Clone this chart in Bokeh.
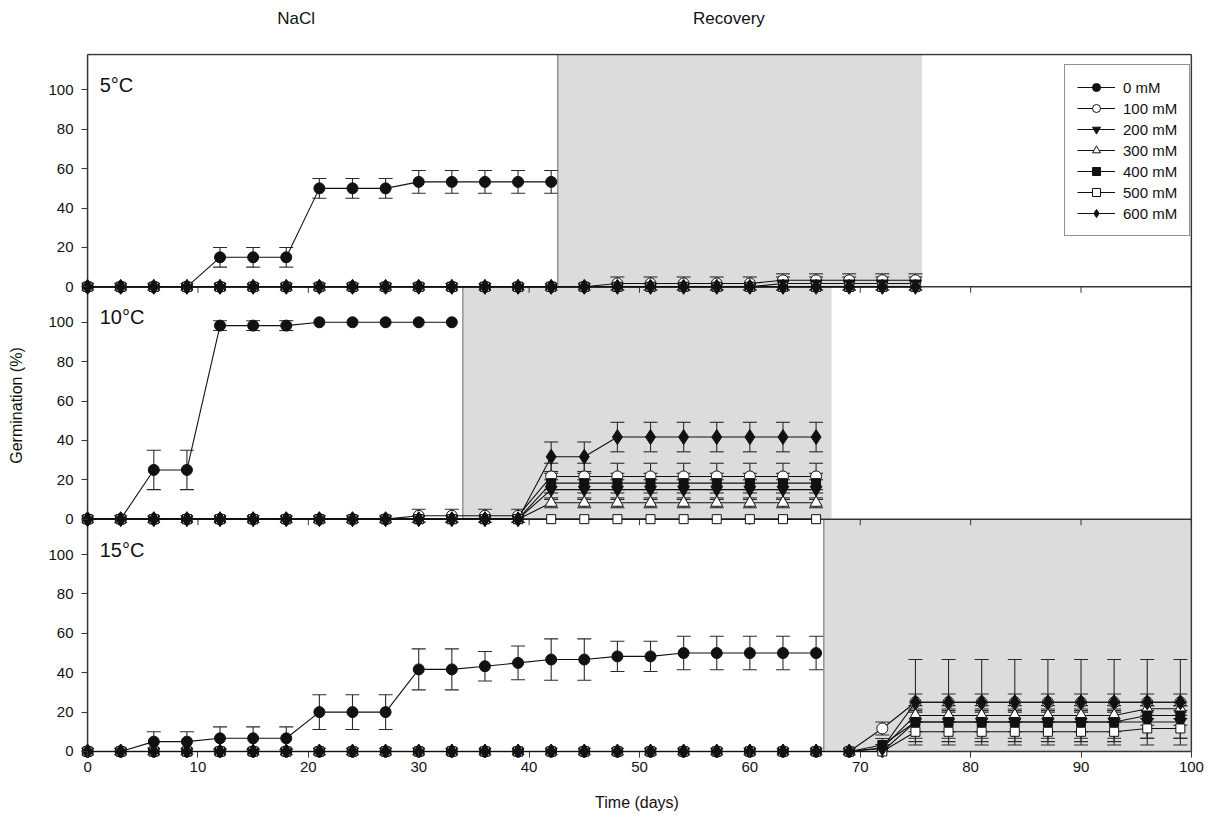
from bokeh.plotting import figure
from bokeh.layouts import column
from bokeh.models import (ColumnDataSource, FixedTicker, Whisker, TeeHead,
                          Legend, LegendItem, Label, Range1d)
from bokeh.core.properties import value
from bokeh.embed import file_html
from bokeh.resources import INLINE

FONT = "Liberation Sans"
INK = "#111111"
FRAME = "#353535"
BAR = "#2a2a2a"
SHADE = "#dcdcdc"

# ---------------------------------------------------------------- data
concentrations = ["0 mM", "100 mM", "200 mM", "300 mM", "400 mM", "500 mM", "600 mM"]
panel_titles = ["5°C", "10°C", "15°C"]
phase_titles = ["NaCl", "Recovery"]
x_tick_values = [0, 10, 20, 30, 40, 50, 60, 70, 80, 90, 100]
y_tick_values = [0, 20, 40, 60, 80, 100]

# 5 °C
days_5 = [0, 3, 6, 9, 12, 15, 18, 21, 24, 27, 30, 33, 36, 39, 42,
          45, 48, 51, 54, 57, 60, 63, 66, 69, 72, 75]
recovery_5 = (42.6, 75.6)
germ_5_0 = [0, 0, 0, 0, 15, 15, 15, 50, 50, 50, 53.3, 53.3, 53.3, 53.3, 53.3]
err_5_0 = [0, 0, 0, 0, 5, 5, 5, 5, 5, 5, 5.8, 5.8, 5.8, 5.8, 5.8]
germ_5_100 = [0, 0, 0, 0, 0, 0, 0, 0, 0, 0, 0, 0, 0, 0, 0,
              0, 1.7, 1.7, 1.7, 1.7, 1.7, 3.3, 3.3, 3.3, 3.3, 3.3]
err_5_100 = [0, 0, 0, 0, 0, 0, 0, 0, 0, 0, 0, 0, 0, 0, 0,
             0, 3.3, 3.3, 3.3, 3.3, 3.3, 3.3, 3.3, 3.3, 3.3, 3.3]
germ_5_200 = [0, 0, 0, 0, 0, 0, 0, 0, 0, 0, 0, 0, 0, 0, 0,
              0, 0, 0, 0, 0, 0, 1.7, 1.7, 1.7, 1.7, 1.7]
err_5_200 = [0, 0, 0, 0, 0, 0, 0, 0, 0, 0, 0, 0, 0, 0, 0,
             0, 0, 0, 0, 0, 0, 3.3, 3.3, 3.3, 3.3, 3.3]
germ_5_300 = [0, 0, 0, 0, 0, 0, 0, 0, 0, 0, 0, 0, 0, 0, 0,
              0, 0, 0, 0, 0, 0, 0, 0, 0, 0, 0]
err_5_300 = [0, 0, 0, 0, 0, 0, 0, 0, 0, 0, 0, 0, 0, 0, 0,
             0, 0, 0, 0, 0, 0, 0, 0, 0, 0, 0]
germ_5_400 = [0, 0, 0, 0, 0, 0, 0, 0, 0, 0, 0, 0, 0, 0, 0,
              0, 0, 0, 0, 0, 0, 0, 0, 0, 0, 0]
err_5_400 = [0, 0, 0, 0, 0, 0, 0, 0, 0, 0, 0, 0, 0, 0, 0,
             0, 0, 0, 0, 0, 0, 0, 0, 0, 0, 0]
germ_5_500 = [0, 0, 0, 0, 0, 0, 0, 0, 0, 0, 0, 0, 0, 0, 0,
              0, 0, 0, 0, 0, 0, 0, 0, 0, 0, 0]
err_5_500 = [0, 0, 0, 0, 0, 0, 0, 0, 0, 0, 0, 0, 0, 0, 0,
             0, 0, 0, 0, 0, 0, 0, 0, 0, 0, 0]
germ_5_600 = [0, 0, 0, 0, 0, 0, 0, 0, 0, 0, 0, 0, 0, 0, 0,
              0, 0, 0, 0, 0, 0, 0, 0, 0, 0, 0]
err_5_600 = [0, 0, 0, 0, 0, 0, 0, 0, 0, 0, 0, 0, 0, 0, 0,
             0, 0, 0, 0, 0, 0, 0, 0, 0, 0, 0]

# 10 °C
days_10 = [0, 3, 6, 9, 12, 15, 18, 21, 24, 27, 30, 33,
           36, 39, 42, 45, 48, 51, 54, 57, 60, 63, 66]
recovery_10 = (34.0, 67.4)
germ_10_0 = [0, 0, 25, 25, 98.3, 98.3, 98.3, 100, 100, 100, 100, 100]
err_10_0 = [0, 0, 10, 10, 2.5, 2.5, 2.5, 0, 0, 0, 0, 0]
germ_10_100 = [0, 0, 0, 0, 0, 0, 0, 0, 0, 0, 1.7, 1.7,
               1.7, 1.7, 21.7, 21.7, 21.7, 21.7, 21.7, 21.7, 21.7, 21.7, 21.7]
err_10_100 = [0, 0, 0, 0, 0, 0, 0, 0, 0, 0, 3.3, 3.3,
              3.3, 3.3, 6.7, 6.7, 6.7, 6.7, 6.7, 6.7, 6.7, 6.7, 6.7]
germ_10_200 = [0, 0, 0, 0, 0, 0, 0, 0, 0, 0, 0, 0,
               0, 0, 15, 15, 15, 15, 15, 15, 15, 15, 15]
err_10_200 = [0, 0, 0, 0, 0, 0, 0, 0, 0, 0, 0, 0,
              0, 0, 5, 5, 5, 5, 5, 5, 5, 5, 5]
germ_10_300 = [0, 0, 0, 0, 0, 0, 0, 0, 0, 0, 0, 0,
               0, 0, 8.3, 8.3, 8.3, 8.3, 8.3, 8.3, 8.3, 8.3, 8.3]
err_10_300 = [0, 0, 0, 0, 0, 0, 0, 0, 0, 0, 0, 0,
              0, 0, 2.5, 2.5, 2.5, 2.5, 2.5, 2.5, 2.5, 2.5, 2.5]
germ_10_400 = [0, 0, 0, 0, 0, 0, 0, 0, 0, 0, 0, 0,
               0, 0, 18.3, 18.3, 18.3, 18.3, 18.3, 18.3, 18.3, 18.3, 18.3]
err_10_400 = [0, 0, 0, 0, 0, 0, 0, 0, 0, 0, 0, 0,
              0, 0, 5, 5, 5, 5, 5, 5, 5, 5, 5]
germ_10_500 = [0, 0, 0, 0, 0, 0, 0, 0, 0, 0, 0, 0,
               0, 0, 0, 0, 0, 0, 0, 0, 0, 0, 0]
err_10_500 = [0, 0, 0, 0, 0, 0, 0, 0, 0, 0, 0, 0,
              0, 0, 0, 0, 0, 0, 0, 0, 0, 0, 0]
germ_10_600 = [0, 0, 0, 0, 0, 0, 0, 0, 0, 0, 0, 0,
               0, 0, 31.7, 31.7, 41.7, 41.7, 41.7, 41.7, 41.7, 41.7, 41.7]
err_10_600 = [0, 0, 0, 0, 0, 0, 0, 0, 0, 0, 0, 0,
              0, 0, 7.5, 7.5, 7.5, 7.5, 7.5, 7.5, 7.5, 7.5, 7.5]

# 15 °C
days_15 = [0, 3, 6, 9, 12, 15, 18, 21, 24, 27, 30, 33, 36, 39, 42, 45, 48,
           51, 54, 57, 60, 63, 66, 69, 72, 75, 78, 81, 84, 87, 90, 93, 96, 99]
recovery_15 = (66.7, 100.0)
germ_15_0 = [0, 0, 5, 5, 6.7, 6.7, 6.7, 20, 20, 20, 41.7, 41.7, 43.3, 45,
             46.7, 46.7, 48.3, 48.3, 50, 50, 50, 50, 50]
err_15_0 = [0, 0, 5, 5, 5.8, 5.8, 5.8, 8.8, 8.8, 8.8, 10.4, 10.4, 7.5, 8.6,
            10.5, 10.5, 7.7, 7.7, 8.5, 8.5, 8.5, 8.5, 8.5]
germ_15_100 = [0, 0, 0, 0, 0, 0, 0, 0, 0, 0, 0, 0, 0, 0, 0, 0, 0,
               0, 0, 0, 0, 0, 0, 0, 11.7, 25, 25, 25, 25, 25, 25, 25, 25, 25]
err_15_100 = [0, 0, 0, 0, 0, 0, 0, 0, 0, 0, 0, 0, 0, 0, 0, 0, 0,
              0, 0, 0, 0, 0, 0, 0, 3.3, 4.2, 4.2, 4.2, 4.2, 4.2, 4.2, 4.2, 4.2, 4.2]
germ_15_200 = [0, 0, 0, 0, 0, 0, 0, 0, 0, 0, 0, 0, 0, 0, 0, 0, 0,
               0, 0, 0, 0, 0, 0, 0, 0, 15, 15, 15, 15, 15, 15, 15, 15, 15]
err_15_200 = [0, 0, 0, 0, 0, 0, 0, 0, 0, 0, 0, 0, 0, 0, 0, 0, 0,
              0, 0, 0, 0, 0, 0, 0, 0, 8.3, 8.3, 8.3, 8.3, 8.3, 8.3, 8.3, 8.3, 8.3]
germ_15_300 = [0, 0, 0, 0, 0, 0, 0, 0, 0, 0, 0, 0, 0, 0, 0, 0, 0,
               0, 0, 0, 0, 0, 0, 0, 1.7, 18.3, 18.3, 18.3, 18.3, 18.3, 18.3, 18.3, 21.7, 21.7]
err_15_300 = [0, 0, 0, 0, 0, 0, 0, 0, 0, 0, 0, 0, 0, 0, 0, 0, 0,
              0, 0, 0, 0, 0, 0, 0, 1.7, 3.3, 3.3, 3.3, 3.3, 3.3, 3.3, 3.3, 3.3, 3.3]
germ_15_400 = [0, 0, 0, 0, 0, 0, 0, 0, 0, 0, 0, 0, 0, 0, 0, 0, 0,
               0, 0, 0, 0, 0, 0, 0, 3.3, 15, 15, 15, 15, 15, 15, 15, 18.3, 18.3]
err_15_400 = [0, 0, 0, 0, 0, 0, 0, 0, 0, 0, 0, 0, 0, 0, 0, 0, 0,
              0, 0, 0, 0, 0, 0, 0, 3.3, 5, 5, 5, 5, 5, 5, 5, 5, 5]
germ_15_500 = [0, 0, 0, 0, 0, 0, 0, 0, 0, 0, 0, 0, 0, 0, 0, 0, 0,
               0, 0, 0, 0, 0, 0, 0, 0, 10, 10, 10, 10, 10, 10, 10, 11.7, 11.7]
err_15_500 = [0, 0, 0, 0, 0, 0, 0, 0, 0, 0, 0, 0, 0, 0, 0, 0, 0,
              0, 0, 0, 0, 0, 0, 0, 0, 5, 5, 5, 5, 5, 5, 5, 5, 5]
germ_15_600 = [0, 0, 0, 0, 0, 0, 0, 0, 0, 0, 0, 0, 0, 0, 0, 0, 0,
               0, 0, 0, 0, 0, 0, 0, 1.7, 25, 25, 25, 25, 25, 25, 25, 25, 25]
err_15_600 = [0, 0, 0, 0, 0, 0, 0, 0, 0, 0, 0, 0, 0, 0, 0, 0, 0,
              0, 0, 0, 0, 0, 0, 0, 1.7, 21.7, 21.7, 21.7, 21.7, 21.7, 21.7, 21.7, 21.7, 21.7]

# ---------------------------------------------------------------- layout
PANEL_SPAN = 118       # y units taken by one stacked panel (axis runs 0..118)
BELOW_PAD = 3.05       # room under each panel's zero line for outward ticks
HEAD_H = 53            # height of the strip carrying the phase headings

# panels from top to bottom with their vertical offset in the shared y space
panels = [
    dict(offset=2 * PANEL_SPAN, days=days_5, recovery=recovery_5, title=panel_titles[0],
         germ=[germ_5_0, germ_5_100, germ_5_200, germ_5_300, germ_5_400, germ_5_500, germ_5_600],
         err=[err_5_0, err_5_100, err_5_200, err_5_300, err_5_400, err_5_500, err_5_600]),
    dict(offset=1 * PANEL_SPAN, days=days_10, recovery=recovery_10, title=panel_titles[1],
         germ=[germ_10_0, germ_10_100, germ_10_200, germ_10_300, germ_10_400, germ_10_500, germ_10_600],
         err=[err_10_0, err_10_100, err_10_200, err_10_300, err_10_400, err_10_500, err_10_600]),
    dict(offset=0, days=days_15, recovery=recovery_15, title=panel_titles[2],
         germ=[germ_15_0, germ_15_100, germ_15_200, germ_15_300, germ_15_400, germ_15_500, germ_15_600],
         err=[err_15_0, err_15_100, err_15_200, err_15_300, err_15_400, err_15_500, err_15_600]),
]

# marker, fill, size for each concentration
styles = [("circle", INK, 11), ("circle", "white", 11),
          ("inverted_triangle", INK, 12), ("triangle", "white", 12),
          ("square", INK, 9), ("square", "white", 9),
          ("diamond", INK, 15)]

x_lo, x_hi = x_tick_values[0], x_tick_values[-1]
n_panels = len(panels)
top_edge = n_panels * PANEL_SPAN
x_range = Range1d(-0.55, 100.1)

# ---------------------------------------------------------------- heading strip
head = figure(width=1209, height=HEAD_H, output_backend="svg", toolbar_location=None,
              x_range=x_range, y_range=Range1d(0, 1),
              min_border_left=81, min_border_right=17, min_border_top=0, min_border_bottom=0,
              background_fill_color="white", border_fill_color="white",
              outline_line_color=None)
head.axis.visible = False
head.grid.visible = False
head.text(x=[18.9, 58.1], y=[0.66, 0.66], text=phase_titles,
          text_font=value(FONT), text_font_size=value("17px"), text_color=INK,
          text_align="center", text_baseline="middle")

# ---------------------------------------------------------------- main plot
p = figure(width=1209, height=823 - HEAD_H, output_backend="svg", toolbar_location=None,
           x_range=x_range, y_range=Range1d(-BELOW_PAD, top_edge + 0.5),
           min_border_left=81, min_border_right=17, min_border_top=0, min_border_bottom=66,
           background_fill_color="white", border_fill_color="white",
           outline_line_color=None)
p.xgrid.visible = False
p.ygrid.visible = False

# x axis: ticks drawn upward from the frame edge so they hang below the zero line
xa = p.xaxis[0]
xa.ticker = FixedTicker(ticks=x_tick_values)
xa.axis_line_color = None
xa.major_tick_in = 6
xa.major_tick_out = 0
xa.major_tick_line_color = FRAME
xa.minor_tick_line_color = None
xa.major_label_standoff = 4
xa.major_label_text_font = FONT
xa.major_label_text_font_size = "15px"
xa.major_label_text_color = INK
xa.axis_label = "Time (days)"
xa.axis_label_text_font = FONT
xa.axis_label_text_font_size = "16px"
xa.axis_label_text_font_style = "normal"
xa.axis_label_text_color = INK
xa.axis_label_standoff = 19

# y axis: the same 0-100 scale repeated for each panel
ya = p.yaxis[0]
y_ticks, y_labels = [], {}
for pan in panels:
    for v in y_tick_values:
        y_ticks.append(pan["offset"] + v)
        y_labels[pan["offset"] + v] = str(v)
ya.ticker = FixedTicker(ticks=y_ticks)
ya.major_label_overrides = y_labels
ya.axis_line_color = None
ya.major_tick_in = 6
ya.major_tick_out = 0
ya.major_tick_line_color = FRAME
ya.minor_tick_line_color = None
ya.major_label_standoff = 8
ya.major_label_text_font = FONT
ya.major_label_text_font_size = "15px"
ya.major_label_text_color = INK
ya.axis_label = "Germination (%)"
ya.axis_label_text_font = FONT
ya.axis_label_text_font_size = "16px"
ya.axis_label_text_font_style = "normal"
ya.axis_label_text_color = INK
ya.axis_label_standoff = 20

# recovery phase shading
for pan in panels:
    r0, r1 = pan["recovery"]
    p.quad(left=[r0], right=[r1], bottom=[pan["offset"]], top=[pan["offset"] + PANEL_SPAN],
           fill_color=SHADE, line_color=None, level="underlay")
    p.segment(x0=[r0], y0=[pan["offset"]], x1=[r0], y1=[pan["offset"] + PANEL_SPAN],
              line_color="#6a6a6a", line_width=1)

# frame: one box per panel plus the small ticks under the upper panels
h_y = [k * PANEL_SPAN for k in range(n_panels + 1)]
p.segment(x0=[x_lo] * len(h_y), y0=h_y, x1=[x_hi] * len(h_y), y1=h_y,
          line_color=FRAME, line_width=1.5)
p.segment(x0=[x_lo, x_hi], y0=[0, 0], x1=[x_lo, x_hi], y1=[top_edge] * 2,
          line_color=FRAME, line_width=1.5)
tx0, ty0, ty1 = [], [], []
for pan in panels:
    if pan["offset"] == 0:
        continue
    for t in x_tick_values[1:]:
        tx0.append(t)
        ty0.append(pan["offset"])
        ty1.append(pan["offset"] - BELOW_PAD)
p.segment(x0=tx0, y0=ty0, x1=tx0, y1=ty1, line_color=FRAME, line_width=1)

# series
legend_renderers = {}
for pan in panels:
    off = pan["offset"]
    for ci, (vals, errs) in enumerate(zip(pan["germ"], pan["err"])):
        xs = pan["days"][:len(vals)]
        ys = [v + off for v in vals]
        wx = [x for x, e in zip(xs, errs) if e > 0]
        wu = [y + e for y, e in zip(ys, errs) if e > 0]
        wl = [y - e for y, e in zip(ys, errs) if e > 0]
        if wx:
            wsrc = ColumnDataSource(dict(x=wx, upper=wu, lower=wl))
            p.add_layout(Whisker(source=wsrc, base="x", upper="upper", lower="lower",
                                 dimension="height", line_color=BAR, line_width=1.1,
                                 upper_head=TeeHead(size=14, line_color=BAR, line_width=1.1),
                                 lower_head=TeeHead(size=14, line_color=BAR, line_width=1.1),
                                 level="underlay"))
        src = ColumnDataSource(dict(x=xs, y=ys))
        ln = p.line("x", "y", source=src, line_color=INK, line_width=1.1)
        marker, fill, size = styles[ci]
        sc = p.scatter("x", "y", source=src, marker=marker, size=size,
                       fill_color=fill, line_color=INK, line_width=1)
        if off == panels[0]["offset"]:
            legend_renderers[ci] = [ln, sc]

    p.add_layout(Label(x=1.1, y=off + 102.5, text=pan["title"], text_font=FONT,
                       text_font_size="20px", text_color=INK, text_baseline="middle"))

legend = Legend(items=[LegendItem(label=concentrations[i], renderers=legend_renderers[i])
                       for i in range(len(concentrations))],
                location=(983, 521), orientation="vertical",
                glyph_width=38, glyph_height=20, label_height=20, spacing=1,
                padding=12, label_standoff=8, margin=0,
                label_text_font=FONT, label_text_font_size="15px", label_text_color=INK,
                border_line_color="#222222", border_line_width=1,
                background_fill_color="white", background_fill_alpha=1)
p.add_layout(legend, "center")

layout = column(head, p, spacing=0)
open("out.html", "w").write(file_html(layout, INLINE))
